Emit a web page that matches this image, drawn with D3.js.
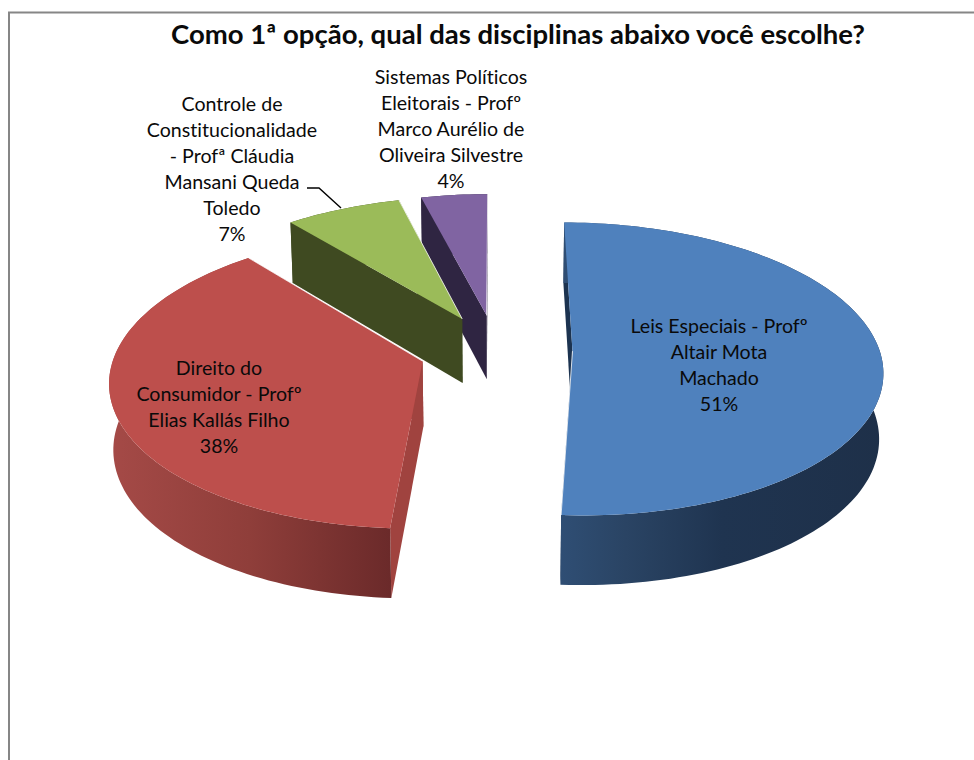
<!DOCTYPE html>
<html>
<head>
<meta charset="utf-8">
<script src="https://cdnjs.cloudflare.com/ajax/libs/d3/7.8.5/d3.min.js"></script>
<style>
  html, body { margin: 0; padding: 0; background: #fff; }
  svg { display: block; }
  text { font-family: Lato, "Open Sans", sans-serif; fill: #0a0a0a; font-variant-ligatures: none; }
</style>
</head>
<body>
<div id="chart"></div>
<script>
const title = 'Como 1ª opção, qual das disciplinas abaixo você escolhe?';
const disciplines = ['Leis Especiais', 'Direito do Consumidor', 'Controle de Constitucionalidade', 'Sistemas Políticos Eleitorais'];
const shares = [51, 38, 7, 4];
const label_lines = [
    ['Leis Especiais - Profº', 'Altair Mota', 'Machado', '51%'],
    ['Direito do', 'Consumidor - Profº', 'Elias Kallás Filho', '38%'],
    ['Controle de', 'Constitucionalidade', '- Profª Cláudia', 'Mansani Queda', 'Toledo', '7%'],
    ['Sistemas Políticos', 'Eleitorais - Profº', 'Marco Aurélio de', 'Oliveira Silvestre', '4%'],
];

// Look of each slice, same order as the data
const top_colors = ['#4f81bd', '#bd4f4c', '#9bbb59', '#8064a2'];
const wall_colors = ['#1c3350', '#a0433f', '#3f4a21', '#2f2542'];
const side_stops = [
    [['#2f4e74', 0], ['#2a4464', 0.2], ['#1f3450', 0.5], ['#1e3049', 1]],
    [['#a54a47', 0], ['#8f3e3a', 0.5], ['#6b2a2a', 1]],
    [['#3f4a21', 0], ['#3f4a21', 1]],
    [['#2f2542', 0], ['#2f2542', 1]],
];
const label_pos = [[719, 326], [219, 368], [232, 104], [451, 77]];
const line_step = 26;

const chart_width = 974;
const chart_height = 760;

// 3D view
const center_x = 496;
const center_y = 350;
const radius_x = 307;
const radius_y = 144;
const perspective = 0.122;
const explode = 0.249;
const depth = 65;

const svg = d3.select('#chart')
    .append('svg')
    .attr('width', chart_width)
    .attr('height', chart_height);

const x_scale = d3.scaleLinear().domain([-1, 1]).range([-radius_x, radius_x]);
const y_scale = d3.scaleLinear().domain([-1, 1]).range([-radius_y, radius_y]);

// x, y in radius units on the table (y grows towards the viewer), level 0 top, 1 bottom
function project(x, y, level) {
    const s = 1 / (1 - perspective * y);
    const drop = depth * (1 + 0.07 * y) * level;
    return [
        center_x + x_scale(x) * s * (1 - 0.011 * level),
        center_y + y_scale(y) * s + drop,
    ];
}

const slices = d3.pie().sort(null).startAngle(0).endAngle(2 * Math.PI)(shares);
const line = d3.line();

function apex(d) {
    const mid = (d.startAngle + d.endAngle) / 2;
    return [Math.sin(mid) * explode, -Math.cos(mid) * explode];
}

function rim(d, level) {
    const [ax, ay] = apex(d);
    const n = Math.ceil((d.endAngle - d.startAngle) * 40);
    return d3.range(n + 1).map(i => {
        const a = d.startAngle + (d.endAngle - d.startAngle) * i / n;
        return project(ax + Math.sin(a), ay - Math.cos(a), level);
    });
}

function wall(d, angle) {
    const [ax, ay] = apex(d);
    const ex = ax + Math.sin(angle);
    const ey = ay - Math.cos(angle);
    return [project(ax, ay, 0), project(ex, ey, 0), project(ex, ey, 1), project(ax, ay, 1)];
}

// Frame
svg.append('path')
    .attr('d', line([[9, chart_height], [9, 12.5], [chart_width, 12.5]]))
    .attr('fill', 'none')
    .attr('stroke', '#868686')
    .attr('stroke-width', 2);

// Gradients for the outer walls
const defs = svg.append('defs');
slices.forEach((d, i) => {
    const xs = rim(d, 0).map(p => p[0]);
    const grad = defs.append('linearGradient')
        .attr('id', `side-${i}`)
        .attr('gradientUnits', 'userSpaceOnUse')
        .attr('x1', d3.min(xs)).attr('x2', d3.max(xs))
        .attr('y1', 0).attr('y2', 0);
    side_stops[i].forEach(s => {
        grad.append('stop').attr('offset', s[1]).attr('stop-color', s[0]);
    });
});

// Paint from the back: purple, green, red, blue
const order = [3, 2, 1, 0];
const pie_g = svg.append('g');
order.forEach(i => {
    const d = slices[i];
    const g = pie_g.append('g').attr('class', 'slice');
    g.append('path').attr('d', line(wall(d, d.endAngle)) + 'Z').attr('fill', wall_colors[i]);
    g.append('path').attr('d', line(wall(d, d.startAngle)) + 'Z').attr('fill', wall_colors[i]);
    g.append('path')
        .attr('d', line(rim(d, 0).concat(rim(d, 1).reverse())) + 'Z')
        .attr('fill', `url(#side-${i})`);
    const [ax, ay] = apex(d);
    g.append('path')
        .attr('d', line([project(ax, ay, 0)].concat(rim(d, 0))) + 'Z')
        .attr('fill', top_colors[i]);
    // thin light edge the renderer leaves on the closing radius
    g.append('path')
        .attr('d', line(wall(d, d.endAngle).slice(0, 2)))
        .attr('stroke', '#fff')
        .attr('stroke-opacity', 0.8)
        .attr('stroke-width', 1);
});

// Leader for the green label
svg.append('path')
    .attr('d', line([[307, 188], [319, 188], [341, 208]]))
    .attr('fill', 'none')
    .attr('stroke', '#000')
    .attr('stroke-width', 1.4);

// Labels
label_lines.forEach((lines, i) => {
    svg.append('text')
        .attr('text-anchor', 'middle')
        .style('font-size', '19.6px')
        .selectAll('tspan')
        .data(lines)
        .enter()
        .append('tspan')
        .attr('x', label_pos[i][0])
        .attr('y', (d, j) => label_pos[i][1] + j * line_step)
        .attr('dy', '0.36em')
        .text(d => d);
});

svg.append('text')
    .attr('x', 518)
    .attr('y', 34)
    .attr('dy', '0.36em')
    .attr('text-anchor', 'middle')
    .style('font-size', '27.5px')
    .style('font-weight', 700)
    .text(title);
</script>
</body>
</html>
